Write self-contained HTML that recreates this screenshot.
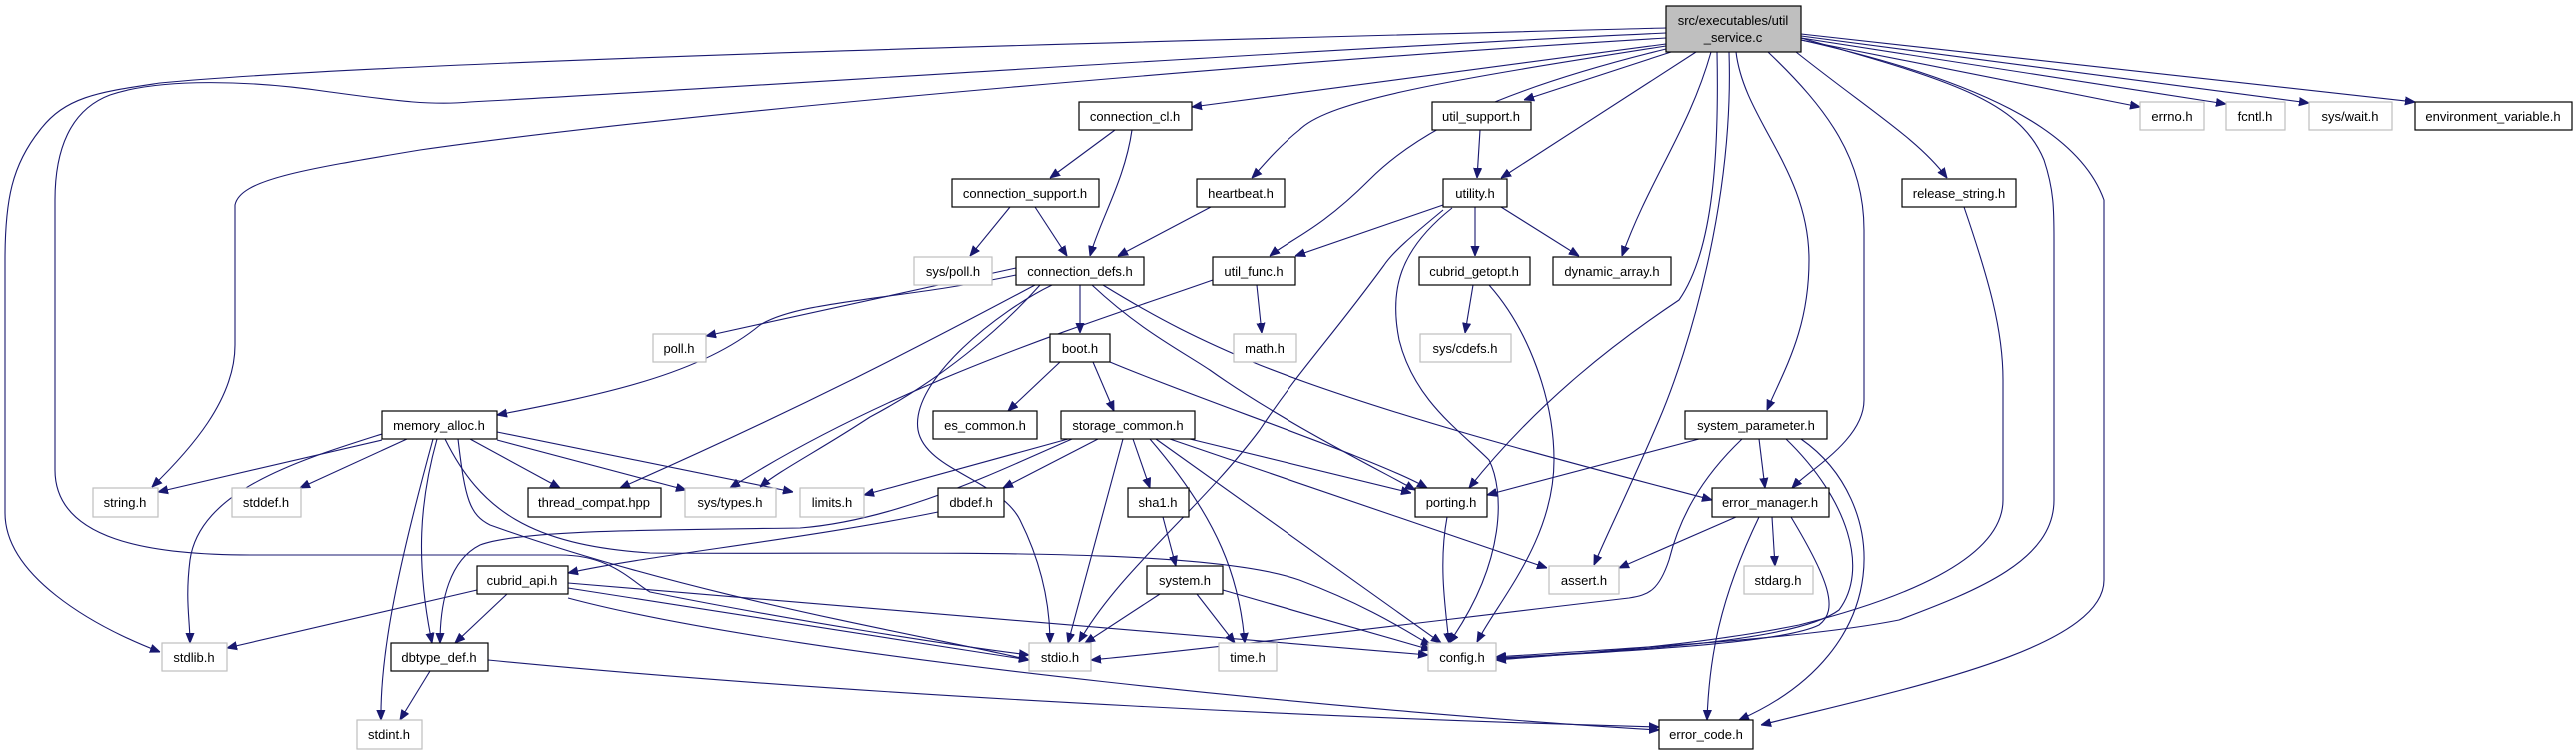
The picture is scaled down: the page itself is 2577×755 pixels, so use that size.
<!DOCTYPE html>
<html><head><meta charset="utf-8"><style>
html,body{margin:0;padding:0;background:#fff;}
svg{display:block;}
text{font-family:"Liberation Sans",sans-serif;font-size:13px;fill:#000;text-anchor:middle;}
.e{fill:none;stroke:#191970;stroke-width:1.1;marker-end:url(#a);}
.n{fill:#fff;stroke:#000;stroke-width:1.2;}
.g{fill:#fff;stroke:#bfbfbf;stroke-width:1.2;}
</style></head><body>
<svg width="2577" height="755" viewBox="0 0 2577 755" xmlns="http://www.w3.org/2000/svg">
<defs><marker id="a" viewBox="0 0 10 10" refX="10" refY="5" markerWidth="10" markerHeight="10" markerUnits="userSpaceOnUse" orient="auto"><path d="M0,1 L10,5 L0,9 z" fill="#191970" stroke="#191970"/></marker></defs>
<g>
<!-- main edges -->
<path class="e" d="M1667,28 C1200,40 400,60 160,83 C100,92 66,96 40,130 C12,165 5,200 5,260 L5,513 C5,575 90,625 160,652"/>
<path class="e" d="M1667,33 C1300,50 700,90 470,102 C430,106 390,100 330,92 C250,80 160,78 110,95 C70,110 55,150 55,200 L55,470 C55,540 150,555 250,555 L560,555 C610,555 630,580 650,592 C800,622 950,645 1029,655"/>
<path class="e" d="M1667,38 C1300,60 700,110 420,150 C300,170 240,180 235,205 L235,345 C235,400 190,450 152,487"/>
<path class="e" d="M1667,44 L1192,107"/>
<path class="e" d="M1667,46 C1450,80 1330,100 1300,130 C1275,150 1260,170 1252,178"/>
<path class="e" d="M1667,49 C1500,90 1420,130 1370,180 C1320,230 1290,240 1270,256"/>
<path class="e" d="M1672,52 L1525,100"/>
<path class="e" d="M1697,52 L1502,178"/>
<path class="e" d="M1712,52 C1690,130 1650,180 1623,256"/>
<path class="e" d="M1718,52 C1720,150 1715,250 1680,300 C1620,340 1540,400 1470,488"/>
<path class="e" d="M1730,52 C1735,200 1690,350 1660,420 C1630,490 1610,530 1595,565"/>
<path class="e" d="M1737,52 C1745,120 1810,170 1810,260 C1810,330 1785,370 1768,410"/>
<path class="e" d="M1769,52 C1830,110 1865,160 1865,230 L1865,400 C1865,440 1810,470 1793,488"/>
<path class="e" d="M1797,52 C1870,110 1920,140 1948,178"/>
<path class="e" d="M1802,38 C1950,80 2020,100 2045,160 C2055,190 2055,210 2055,240 L2055,500 C2055,560 1980,590 1900,620 C1800,640 1600,650 1497,657"/>
<path class="e" d="M1802,40 C1980,80 2080,130 2105,200 L2105,580 C2105,650 1900,690 1762,725"/>
<path class="e" d="M1802,40 L2141,107"/>
<path class="e" d="M1802,38 L2227,104"/>
<path class="e" d="M1802,36 L2310,103"/>
<path class="e" d="M1802,34 L2416,102"/>
<!-- connection_cl etc -->
<path class="e" d="M1115,130 L1050,178"/>
<path class="e" d="M1132,130 C1125,180 1100,220 1090,256"/>
<path class="e" d="M1010,207 L970,256"/>
<path class="e" d="M1035,207 L1067,256"/>
<path class="e" d="M1211,207 L1118,256"/>
<path class="e" d="M1481,130 L1478,178"/>
<path class="e" d="M1444,205 L1296,256"/>
<path class="e" d="M1476,207 L1476,256"/>
<path class="e" d="M1502,207 L1580,256"/>
<path class="e" d="M1444,210 C1420,230 1395,250 1385,265 C1330,340 1300,370 1260,430 C1200,510 1120,570 1079,642"/>
<path class="e" d="M1453,208 C1400,250 1390,290 1400,340 C1415,400 1460,430 1490,460 C1505,490 1508,560 1450,643"/>
<path class="e" d="M1257,285 L1262,333"/>
<path class="e" d="M1213,280 C1100,320 900,380 730,488"/>
<path class="e" d="M1474,285 L1466,333"/>
<path class="e" d="M1490,285 C1530,330 1555,400 1555,460 C1555,540 1500,600 1478,642"/>
<!-- connection_defs -->
<path class="e" d="M1016,268 L706,336"/>
<path class="e" d="M1016,275 C900,300 800,300 760,325 C700,375 600,395 497,415"/>
<path class="e" d="M1035,285 C950,330 820,400 620,488"/>
<path class="e" d="M1080,285 L1080,333"/>
<path class="e" d="M1052,285 C1000,310 910,380 918,430 C925,470 1000,480 1020,520 C1040,560 1050,600 1050,643"/>
<path class="e" d="M1092,285 C1140,330 1180,350 1210,370 C1280,420 1380,470 1416,490"/>
<path class="e" d="M1103,285 C1160,320 1200,340 1260,365 C1400,420 1600,470 1713,500"/>
<path class="e" d="M1040,285 C1000,330 940,380 870,417 C820,450 780,470 760,487"/>
<!-- boot -->
<path class="e" d="M1060,362 L1008,411"/>
<path class="e" d="M1093,362 L1114,411"/>
<path class="e" d="M1110,362 C1200,400 1380,460 1428,488"/>
<!-- storage_common -->
<path class="e" d="M1068,439 L864,495"/>
<path class="e" d="M1072,439 C1000,470 900,520 800,528 C650,530 520,530 480,545 C450,560 440,600 440,643"/>
<path class="e" d="M1098,439 L1003,488"/>
<path class="e" d="M1123,439 L1068,643"/>
<path class="e" d="M1133,439 L1150,488"/>
<path class="e" d="M1150,439 C1220,520 1240,580 1245,643"/>
<path class="e" d="M1156,439 L1442,643"/>
<path class="e" d="M1170,439 L1548,568"/>
<path class="e" d="M1190,439 L1412,493"/>
<path class="e" d="M938,512 C800,540 650,555 568,573"/>
<path class="e" d="M1163,517 L1176,566"/>
<path class="e" d="M1160,594 L1085,643"/>
<path class="e" d="M1197,594 L1235,643"/>
<path class="e" d="M1223,590 L1432,650"/>
<path class="e" d="M1448,517 C1440,560 1445,600 1450,643"/>
<!-- memory_alloc -->
<path class="e" d="M382,440 L158,492"/>
<path class="e" d="M382,434 C300,460 200,490 190,560 C185,600 190,620 190,643"/>
<path class="e" d="M407,439 L300,488"/>
<path class="e" d="M437,439 C420,500 415,560 432,643"/>
<path class="e" d="M433,439 C400,560 380,650 381,720"/>
<path class="e" d="M470,439 L560,488"/>
<path class="e" d="M497,440 L686,490"/>
<path class="e" d="M497,432 L793,492"/>
<path class="e" d="M458,439 C465,500 470,515 490,525 C700,600 950,640 1029,660"/>
<path class="e" d="M445,439 C480,510 530,545 650,553 C900,555 1200,545 1300,580 C1380,610 1420,640 1432,645"/>
<!-- cubrid_api / dbtype_def -->
<path class="e" d="M477,590 L227,648"/>
<path class="e" d="M507,594 L455,643"/>
<path class="e" d="M568,588 L1029,660"/>
<path class="e" d="M568,583 L1429,655"/>
<path class="e" d="M568,598 C800,660 1400,715 1660,730"/>
<path class="e" d="M430,671 L400,720"/>
<path class="e" d="M488,660 C900,700 1400,720 1660,727"/>
<!-- system_parameter -->
<path class="e" d="M1700,439 L1488,495"/>
<path class="e" d="M1760,439 L1766,488"/>
<path class="e" d="M1743,439 C1700,480 1680,520 1670,560 C1660,590 1650,595 1630,598 C1400,625 1200,650 1091,660"/>
<path class="e" d="M1787,439 C1850,500 1870,570 1840,610 C1800,640 1650,650 1497,658"/>
<path class="e" d="M1802,439 C1890,500 1900,650 1740,720"/>
<!-- error_manager -->
<path class="e" d="M1737,517 L1620,568"/>
<path class="e" d="M1773,517 L1776,566"/>
<path class="e" d="M1760,517 C1720,600 1710,660 1708,720"/>
<path class="e" d="M1792,517 C1830,580 1840,610 1820,625 C1780,645 1600,652 1497,659"/>
<path class="e" d="M1965,207 C1990,280 2004,330 2004,380 L2004,500 C2004,560 1900,600 1800,625 C1700,645 1600,652 1497,660"/>
</g>
<g>
<rect x="1667" y="6" width="135" height="46" fill="#bfbfbf" stroke="#000" stroke-width="1.2"/>
<text x="1734" y="25">src/executables/util</text><text x="1734" y="42">_service.c</text>
<rect class="n" x="1079" y="102" width="113" height="28"/><text x="1135" y="121">connection_cl.h</text>
<rect class="n" x="1433" y="102" width="99" height="28"/><text x="1482" y="121">util_support.h</text>
<rect class="g" x="2141" y="102" width="64" height="28"/><text x="2173" y="121">errno.h</text>
<rect class="g" x="2227" y="102" width="59" height="28"/><text x="2256" y="121">fcntl.h</text>
<rect class="g" x="2310" y="102" width="83" height="28"/><text x="2351" y="121">sys/wait.h</text>
<rect class="n" x="2416" y="102" width="157" height="28"/><text x="2494" y="121">environment_variable.h</text>
<rect class="n" x="952" y="179" width="147" height="28"/><text x="1025" y="198">connection_support.h</text>
<rect class="n" x="1197" y="179" width="88" height="28"/><text x="1241" y="198">heartbeat.h</text>
<rect class="n" x="1444" y="179" width="64" height="28"/><text x="1476" y="198">utility.h</text>
<rect class="n" x="1903" y="179" width="114" height="28"/><text x="1960" y="198">release_string.h</text>
<rect class="g" x="914" y="257" width="78" height="28"/><text x="953" y="276">sys/poll.h</text>
<rect class="n" x="1016" y="257" width="128" height="28"/><text x="1080" y="276">connection_defs.h</text>
<rect class="n" x="1213" y="257" width="83" height="28"/><text x="1254" y="276">util_func.h</text>
<rect class="n" x="1420" y="257" width="111" height="28"/><text x="1475" y="276">cubrid_getopt.h</text>
<rect class="n" x="1554" y="257" width="118" height="28"/><text x="1613" y="276">dynamic_array.h</text>
<rect class="g" x="653" y="334" width="53" height="28"/><text x="679" y="353">poll.h</text>
<rect class="n" x="1050" y="334" width="60" height="28"/><text x="1080" y="353">boot.h</text>
<rect class="g" x="1234" y="334" width="63" height="28"/><text x="1265" y="353">math.h</text>
<rect class="g" x="1421" y="334" width="91" height="28"/><text x="1466" y="353">sys/cdefs.h</text>
<rect class="n" x="382" y="411" width="115" height="28"/><text x="439" y="430">memory_alloc.h</text>
<rect class="n" x="933" y="411" width="104" height="28"/><text x="985" y="430">es_common.h</text>
<rect class="n" x="1061" y="411" width="134" height="28"/><text x="1128" y="430">storage_common.h</text>
<rect class="n" x="1686" y="411" width="142" height="28"/><text x="1757" y="430">system_parameter.h</text>
<rect class="g" x="93" y="488" width="65" height="29"/><text x="125" y="507">string.h</text>
<rect class="g" x="232" y="488" width="69" height="29"/><text x="266" y="507">stddef.h</text>
<rect class="n" x="528" y="488" width="133" height="29"/><text x="594" y="507">thread_compat.hpp</text>
<rect class="g" x="685" y="488" width="91" height="29"/><text x="730" y="507">sys/types.h</text>
<rect class="g" x="800" y="488" width="64" height="29"/><text x="832" y="507">limits.h</text>
<rect class="n" x="938" y="488" width="66" height="29"/><text x="971" y="507">dbdef.h</text>
<rect class="n" x="1128" y="488" width="61" height="29"/><text x="1158" y="507">sha1.h</text>
<rect class="n" x="1416" y="488" width="72" height="29"/><text x="1452" y="507">porting.h</text>
<rect class="n" x="1713" y="488" width="117" height="29"/><text x="1771" y="507">error_manager.h</text>
<rect class="n" x="477" y="566" width="91" height="28"/><text x="522" y="585">cubrid_api.h</text>
<rect class="n" x="1147" y="566" width="76" height="28"/><text x="1185" y="585">system.h</text>
<rect class="g" x="1550" y="566" width="70" height="28"/><text x="1585" y="585">assert.h</text>
<rect class="g" x="1745" y="566" width="69" height="28"/><text x="1779" y="585">stdarg.h</text>
<rect class="g" x="162" y="643" width="65" height="28"/><text x="194" y="662">stdlib.h</text>
<rect class="n" x="391" y="643" width="97" height="28"/><text x="439" y="662">dbtype_def.h</text>
<rect class="g" x="1029" y="643" width="62" height="28"/><text x="1060" y="662">stdio.h</text>
<rect class="g" x="1219" y="643" width="58" height="28"/><text x="1248" y="662">time.h</text>
<rect class="g" x="1429" y="643" width="68" height="28"/><text x="1463" y="662">config.h</text>
<rect class="g" x="357" y="720" width="65" height="29"/><text x="389" y="739">stdint.h</text>
<rect class="n" x="1660" y="720" width="94" height="29"/><text x="1707" y="739">error_code.h</text>
</g>
</svg>
</body></html>
